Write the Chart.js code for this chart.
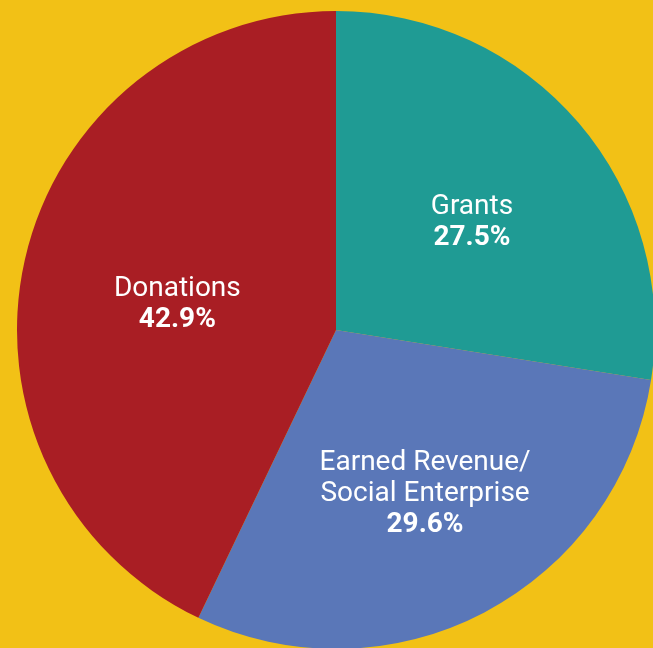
<!DOCTYPE html>
<html>
<head>
<meta charset="utf-8">
<script src="https://cdn.jsdelivr.net/npm/chart.js@4/dist/chart.umd.min.js"></script>
<style>
  html, body { margin: 0; padding: 0; background: #f2c116; width: 653px; height: 648px; overflow: hidden; }
  #wrap { position: absolute; left: 6px; top: 0; width: 660px; height: 660px; }
</style>
</head>
<body>
<div id="wrap"><canvas id="pie"></canvas></div>
<script>
// parts du financement (ordre horaire depuis midi)
const labels = [['Grants'], ['Earned Revenue/', 'Social Enterprise'], ['Donations']];
const values = [27.5, 29.6, 42.9];
const colors = ['#1f9b94', '#5a77b8', '#a91e24'];

// étiquettes blanches au centre de chaque part
const sliceLabels = {
  id: 'sliceLabels',
  afterDatasetsDraw(chart, args, opts) {
    const ctx = chart.ctx;
    const meta = chart.getDatasetMeta(0);
    meta.data.forEach((arc, i) => {
      const p = arc.getProps(['x', 'y', 'startAngle', 'endAngle', 'outerRadius'], true);
      const mid = (p.startAngle + p.endAngle) / 2;
      const r = p.outerRadius * opts.dist[i];
      const cx = p.x + Math.cos(mid) * r + opts.nudge[i][0];
      const cy = p.y + Math.sin(mid) * r + opts.nudge[i][1];
      const lines = labels[i];
      const lh = opts.lineHeight;
      let y = cy - lines.length * lh / 2;
      ctx.save();
      ctx.fillStyle = '#fff';
      ctx.textAlign = 'center';
      ctx.textBaseline = 'middle';
      ctx.font = "400 28px Roboto, 'Noto Sans', sans-serif";
      lines.forEach((t) => { ctx.fillText(t, cx, y); y += lh; });
      ctx.font = "700 28px Roboto, 'Noto Sans', sans-serif";
      ctx.fillText(values[i].toFixed(1) + '%', cx, y);
      ctx.restore();
    });
  },
};

new Chart(document.getElementById('pie'), {
  type: 'pie',
  data: { labels: labels.map((l) => l.join(' ')), datasets: [{ data: values, backgroundColor: colors, borderWidth: 0 }] },
  options: {
    responsive: true, maintainAspectRatio: false, animation: false,
    radius: 319,
    layout: { padding: 0 },
    plugins: {
      legend: { display: false }, tooltip: { enabled: false },
      sliceLabels: { dist: [0.54, 0.58, 0.51], nudge: [[5, 4], [3, 0], [0, 10]], lineHeight: 31 },
    },
  },
  plugins: [sliceLabels],
});
</script>
</body>
</html>
